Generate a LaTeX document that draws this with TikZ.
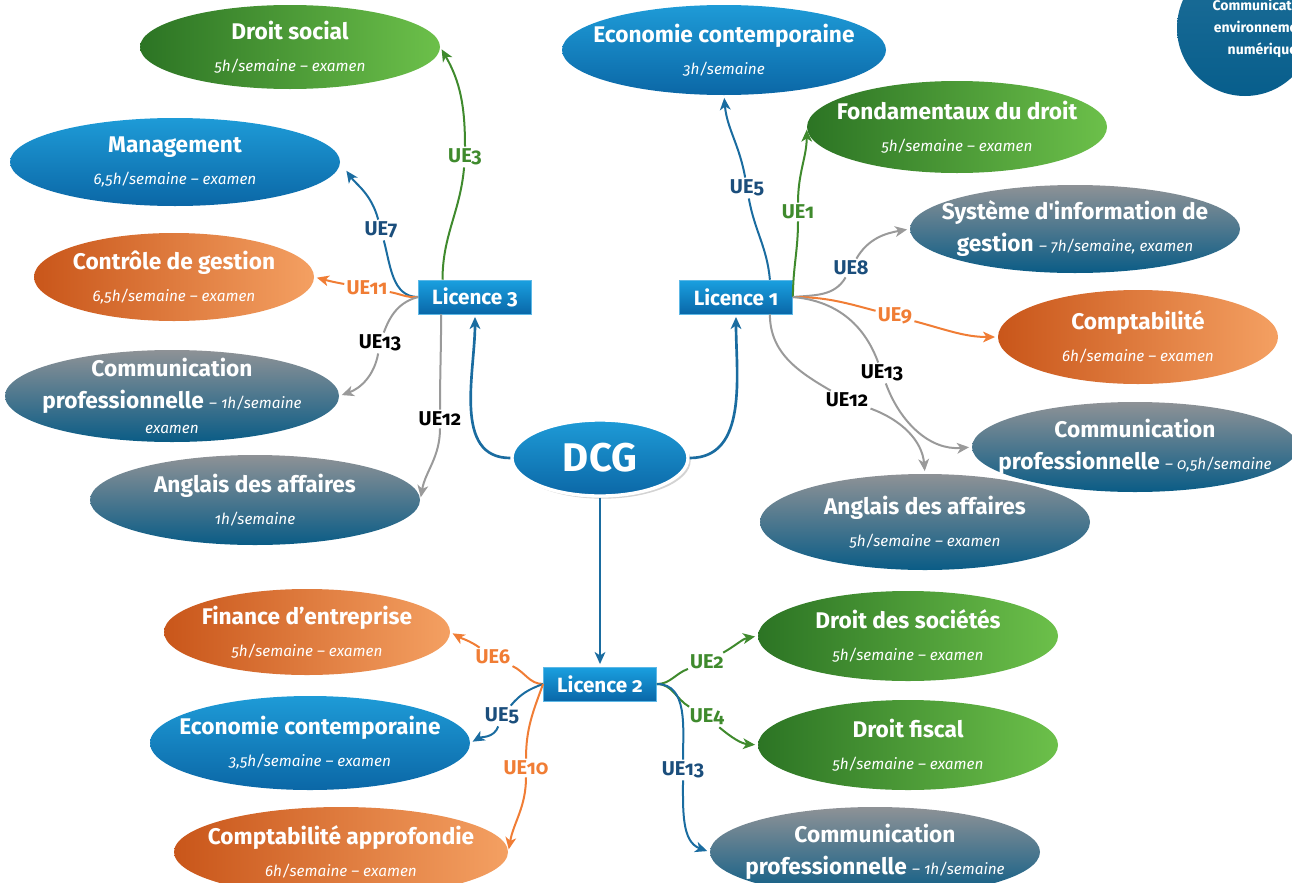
\documentclass[tikz,border=0pt]{standalone}
\usepackage{fontspec}
\setmainfont{Fira Sans}[Numbers=OldStyle]
\usetikzlibrary{%
		arrows.meta%
		,shapes.geometric%
		,shadows%
	}

\definecolor{blueT}{HTML}{1E9BD7}
\definecolor{blueB}{HTML}{0B67A6}
\definecolor{greenD}{HTML}{2C7424}
\definecolor{greenL}{HTML}{6CC04A}
\definecolor{oraD}{HTML}{C9561A}
\definecolor{oraL}{HTML}{F4A062}
\definecolor{slateT}{HTML}{8E9296}
\definecolor{slateB}{HTML}{0A5C86}
\definecolor{licT}{HTML}{1AA0E0}
\definecolor{licB}{HTML}{0967A8}
\definecolor{licE}{HTML}{5DB8E6}
\definecolor{lblue}{HTML}{1A6CA0}
\definecolor{ldblue}{HTML}{1B4E7C}
\definecolor{lgreen}{HTML}{3F8A2D}
\definecolor{lorange}{HTML}{F07D35}
\definecolor{lgray}{HTML}{9A9A9A}
\definecolor{numT}{HTML}{1E6E98}
\definecolor{numB}{HTML}{075E8C}

\newcommand\horaire[1]{{\fontsize{11.5pt}{24pt}\selectfont\mdseries\itshape #1}}

\tikzset{
	bsize/.style 2 args={minimum width=#1*0.75pt, minimum height=#2*0.75pt},
	bubble/.style={ellipse, inner xsep=-40pt, inner ysep=-10pt, text=white, align=center,
		font=\fontsize{17pt}{24pt}\selectfont\bfseries},
	bluebub/.style={bubble, top color=blueT, bottom color=blueB},
	greenbub/.style={bubble, left color=greenD, right color=greenL},
	orabub/.style={bubble, left color=oraD, right color=oraL},
	slatebub/.style={bubble, top color=slateT, bottom color=slateB},
	licbox/.style={rectangle, draw=licE, top color=licT, bottom color=licB, text=white,
		font=\fontsize{15.5pt}{17pt}\selectfont\bfseries, minimum width=85pt, minimum height=25.5pt, inner xsep=2pt},
	uelbl/.style={inner sep=1.5pt, font=\fontsize{15pt}{16pt}\selectfont\bfseries},
	stem/.style={line width=1.5pt},
	arr/.style={stem, -{Stealth[length=9pt,width=8pt,inset=2.5pt]}, shorten >=2pt},
}

\begin{document}
\begin{tikzpicture}[x=0.75pt, y=0.75pt]
	\useasboundingbox (0,0) rectangle (1292,-882);

	% coin
	\begin{scope}
		\clip (0,0) rectangle (1292,-882);
		\node[circle, top color=numT, bottom color=numB, minimum size=102pt] (cnum) at (1245,-28) {};
		\node[xshift=13pt, text=white, align=center, font=\fontsize{10.5pt}{16.5pt}\selectfont\bfseries] (cnumtxt) at (cnum) {Communication\\environnement\\numérique};
	\end{scope}

	% DCG
	\node[ellipse, top color=blueT, bottom color=blueB, draw=white, line width=2.5pt,
		drop shadow={opacity=0.35, shadow xshift=2pt, shadow yshift=-2pt},
		bsize={176}{76}, inner sep=0pt, text=white, font=\fontsize{30pt}{32pt}\selectfont\bfseries] (dcg) at (600,-458) {DCG};
	\node[licbox] (lic3) at (475,-297) {Licence 3};
	\node[licbox] (lic1) at (736,-297) {Licence 1};
	\node[licbox] (lic2) at (600,-684) {Licence 2};

	% Licence 3
	\node[greenbub, bsize={300}{84}] (dsocial) at (290,-47) {Droit social\\\horaire{5h/semaine – examen}};
	\node[bluebub, bsize={330}{88}] (mgmt) at (175,-162) {Management\\\horaire{6,5h/semaine – examen}};
	\node[orabub, bsize={280}{88}] (cgestion) at (174,-277) {Contrôle de gestion\\\horaire{6,5h/semaine – examen}};
	\node[slatebub, bsize={334}{92}] (comm3) at (172,-396) {Communication\\professionnelle \horaire{– 1h/semaine}\\[-5pt]\horaire{examen}};
	\node[slatebub, bsize={330}{90}] (angl3) at (255,-500) {Anglais des affaires\\\horaire{1h/semaine}};

	% Licence 1
	\node[bluebub, bsize={324}{90}] (eco1) at (724,-50) {Economie contemporaine\\\horaire{3h/semaine}};
	\node[greenbub, bsize={300}{92}] (fond) at (957,-127) {Fondamentaux du droit\\\horaire{5h/semaine – examen}};
	\node[slatebub, bsize={330}{88}] (sig) at (1075,-229) {Système d\textquotesingle information de\\gestion \horaire{– 7h/semaine, examen}};
	\node[orabub, bsize={280}{94}] (compta) at (1138,-337) {Comptabilité\\\horaire{6h/semaine – examen}};
	\node[slatebub, bsize={326}{90}] (comm1) at (1135,-447) {Communication\\professionnelle \horaire{– 0,5h/semaine}};
	\node[slatebub, bsize={330}{96}] (angl1) at (925,-522) {Anglais des affaires\\\horaire{5h/semaine – examen}};

	% Licence 2
	\node[orabub, bsize={286}{86}] (fin) at (307,-632) {Finance d’entreprise\\\horaire{5h/semaine – examen}};
	\node[bluebub, bsize={320}{94}] (eco2) at (310,-743) {Economie contemporaine\\\horaire{3,5h/semaine – examen}};
	\node[orabub, bsize={334}{90}] (comptaa) at (341,-852) {Comptabilité approfondie\\\horaire{6h/semaine – examen}};
	\node[greenbub, bsize={300}{90}] (dsoc) at (908,-636) {Droit des sociétés\\\horaire{5h/semaine – examen}};
	\node[greenbub, bsize={300}{90}] (fiscal) at (908,-745) {Droit fiscal\\\horaire{5h/semaine – examen}};
	\node[slatebub, bsize={330}{90}] (comm2) at (875,-852) {Communication\\professionnelle \horaire{– 1h/semaine}};

	% DCG vers licences
	\draw[arr, lblue, line width=2pt] (dcg.west) to[out=180,in=-90] (lic3.south);
	\draw[arr, lblue, line width=2pt] (dcg.east) to[out=0,in=-90] (lic1.south);
	\draw[arr, lblue, line width=2pt] (dcg.south) -- (lic2.north);

	% UE Licence 3
	\node[uelbl, text=lgreen] (u3a) at (465,-157) {UE3};
	\draw[stem, lgreen] (lic3.152) to[out=90,in=-95] (u3a);
	\draw[arr, lgreen] (u3a) to[out=90,in=-60] (dsocial.east);
	\node[uelbl, text=ldblue] (u3b) at (381,-230) {UE7};
	\draw[stem, lblue] (lic3.west) to[out=180,in=-75] (u3b);
	\draw[arr, lblue, shorten >=8pt] (u3b) to[out=105,in=-55] (mgmt.east);
	\node[uelbl, text=lorange] (u3c) at (367,-288) {UE11};
	\draw[stem, lorange] (lic3.west) to[out=185,in=-10] (u3c);
	\draw[arr, lorange] (u3c) to[out=170,in=-15] (cgestion.east);
	\node[uelbl] (u3d) at (380,-343) {UE13};
	\draw[stem, lgray] (lic3.west) to[out=195,in=70] (u3d);
	\draw[arr, lgray] (u3d) to[out=-100,in=20] (comm3.east);
	\node[uelbl] (u3e) at (440,-419) {UE12};
	\draw[stem, lgray] (lic3.207) to[out=-90,in=90] (u3e);
	\draw[arr, lgray] (u3e) to[out=-90,in=80] (angl3.east);

	% UE Licence 1
	\node[uelbl, text=ldblue] (u1a) at (747,-188) {UE5};
	\draw[stem, lblue] (lic1.27) to[out=95,in=-80] (u1a);
	\draw[arr, lblue] (u1a) to[out=100,in=-85] (eco1.south);
	\node[uelbl, text=lgreen] (u1b) at (798,-212) {UE1};
	\draw[stem, lgreen] (lic1.east) to[out=90,in=-90] (u1b);
	\draw[arr, lgreen] (u1b) to[out=90,in=-90] (fond.west);
	\node[uelbl, text=ldblue] (u1c) at (851,-268) {UE8};
	\draw[stem, lgray] (lic1.east) to[out=5,in=-120] (u1c);
	\draw[arr, lgray] (u1c) to[out=60,in=190] (sig.west);
	\node[uelbl, text=lorange] (u1d) at (895,-316) {UE9};
	\draw[stem, lorange] (lic1.east) to[out=0,in=165] (u1d);
	\draw[arr, lorange] (u1d) to[out=-15,in=180] (compta.west);
	\node[uelbl] (u1e) at (882,-373) {UE13};
	\draw[stem, lgray] (lic1.east) to[out=-5,in=110] (u1e);
	\draw[arr, lgray] (u1e) to[out=-70,in=185] (comm1.west);
	\node[uelbl] (u1f) at (847,-400) {UE12};
	\draw[stem, lgray] (lic1.-27) to[out=-90,in=150] (u1f);
	\draw[arr, lgray] (u1f) to[out=-20,in=95] (angl1.north);

	% UE Licence 2
	\node[uelbl, text=lorange] (u2a) at (493,-657) {UE6};
	\draw[stem, lorange] (lic2.west) to[out=180,in=-25] (u2a);
	\draw[arr, lorange] (u2a) to[out=145,in=-30] (fin.east);
	\node[uelbl, text=ldblue] (u2b) at (502,-716) {UE5};
	\draw[stem, lblue] (lic2.west) to[out=200,in=50] (u2b);
	\draw[arr, lblue] (u2b) to[out=-110,in=30] (eco2.east);
	\node[uelbl, text=lorange] (u2c) at (526,-768) {UE10};
	\draw[stem, lorange] (lic2.west) to[out=250,in=90] (u2c);
	\draw[arr, lorange] (u2c) to[out=-90,in=80] (comptaa.east);
	\node[uelbl, text=lgreen] (u2d) at (707,-662) {UE2};
	\draw[stem, lgreen] (lic2.east) to[out=0,in=200] (u2d);
	\draw[arr, lgreen] (u2d) to[out=30,in=190] (dsoc.west);
	\node[uelbl, text=lgreen] (u2e) at (707,-717) {UE4};
	\draw[stem, lgreen] (lic2.east) to[out=0,in=150] (u2e);
	\draw[arr, lgreen] (u2e) to[out=-40,in=175] (fiscal.west);
	\node[uelbl, text=ldblue] (u2f) at (683,-770) {UE13};
	\draw[stem, lblue] (lic2.east) to[out=0,in=90] (u2f);
	\draw[arr, lblue] (u2f) to[out=-90,in=160] (comm2.west);
\end{tikzpicture}
\end{document}
